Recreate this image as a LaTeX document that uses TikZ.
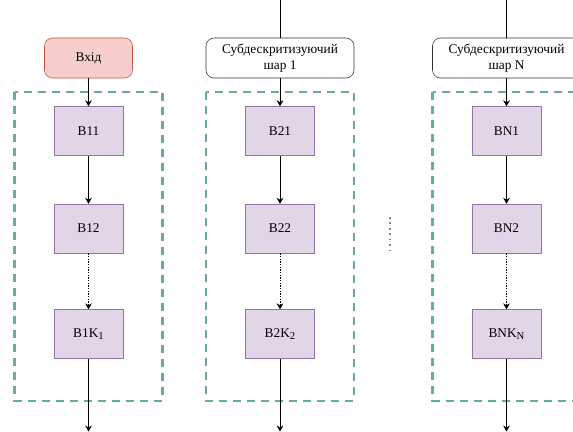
\documentclass[tikz,border=0pt]{standalone}
\usepackage{fontspec}
\setmainfont{Liberation Serif}
\usetikzlibrary{arrows.meta,calc,positioning}
\definecolor{inred}{HTML}{B85450}
\definecolor{inpink}{HTML}{F8CECC}
\definecolor{blockviolet}{HTML}{9673A6}
\definecolor{blockfill}{HTML}{E1D5E7}
\definecolor{groupgreen}{HTML}{67AB9F}
\definecolor{dotgrey}{HTML}{8A7E9E}
\newcommand{\lowidx}[1]{\raisebox{-0.45ex}{\fontsize{8}{9}\selectfont #1}}
\tikzset{
  inputbox/.style={draw=inred,fill=inpink,rounded corners=6pt,
    minimum width=66pt,minimum height=30pt,inner sep=2pt},
  subbox/.style={draw=black!80,fill=white,rounded corners=6pt,
    minimum width=111pt,minimum height=30pt,inner sep=2pt,align=center},
  block/.style={draw=blockviolet,fill=blockfill,
    minimum width=51.75pt,minimum height=36.75pt,inner sep=2pt},
  groupbox/.style={draw=groupgreen,line width=1.8pt,dash pattern=on 6pt off 4.5pt},
  flow/.style={-{Stealth[length=4.5pt,width=5pt]},line width=0.6pt},
  skipflow/.style={flow,dash pattern=on 1pt off 1pt},
  feed/.style={line width=0.6pt}
}
\begin{document}
\begin{tikzpicture}[x=0.75pt,y=-0.75pt,font=\fontsize{10}{11.5}\selectfont]
  \clip (0,0) rectangle (573,431);
  % first column
  \node[inputbox] (in) at (88.5,58) {Вхід};
  \node[block,below=21pt of in] (b11) {B11};
  \node[block,below=36pt of b11] (b12) {B12};
  \node[block,below=42pt of b12] (b1k) {B1K\lowidx{1}};
  \coordinate[below=54.5pt of b1k.south] (out1);
  \draw[groupbox] ($(b11.north)+(-74,-14)$) rectangle ($(b1k.south)+(74,42)$);
  \draw[flow] (in) -- (b11);
  \draw[flow] (b11) -- (b12);
  \draw[skipflow] (b12) -- (b1k);
  \draw[flow] (b1k) -- (out1);
  % second column
  \node[subbox] (sub1) at (280,58) {Субдескритизуючий\\шар 1};
  \coordinate[above=30pt of sub1.north] (top1);
  \node[block,below=21pt of sub1] (b21) {B21};
  \node[block,below=36pt of b21] (b22) {B22};
  \node[block,below=42pt of b22] (b2k) {B2K\lowidx{2}};
  \coordinate[below=54.5pt of b2k.south] (out2);
  \draw[groupbox] ($(b21.north)+(-74,-14)$) rectangle ($(b2k.south)+(74,42)$);
  \draw[feed] (top1) -- (sub1);
  \draw[flow] (sub1) -- (b21);
  \draw[flow] (b21) -- (b22);
  \draw[skipflow] (b22) -- (b2k);
  \draw[flow] (b2k) -- (out2);
  % gap between layers
  \draw[dotgrey,line width=1.2pt,dash pattern=on 1.2pt off 2.9pt] (390,217) -- (390,254);
  % last column
  \node[subbox] (subn) at (506.5,58) {Субдескритизуючий\\шар N};
  \coordinate[above=30pt of subn.north] (topn);
  \node[block,below=21pt of subn] (bn1) {BN1};
  \node[block,below=36pt of bn1] (bn2) {BN2};
  \node[block,below=42pt of bn2] (bnk) {BNK\lowidx{N}};
  \coordinate[below=54.5pt of bnk.south] (outn);
  \draw[groupbox] ($(bn1.north)+(-74,-14)$) rectangle ($(bnk.south)+(74,42)$);
  \draw[feed] (topn) -- (subn);
  \draw[flow] (subn) -- (bn1);
  \draw[flow] (bn1) -- (bn2);
  \draw[skipflow] (bn2) -- (bnk);
  \draw[flow] (bnk) -- (outn);
\end{tikzpicture}
\end{document}
